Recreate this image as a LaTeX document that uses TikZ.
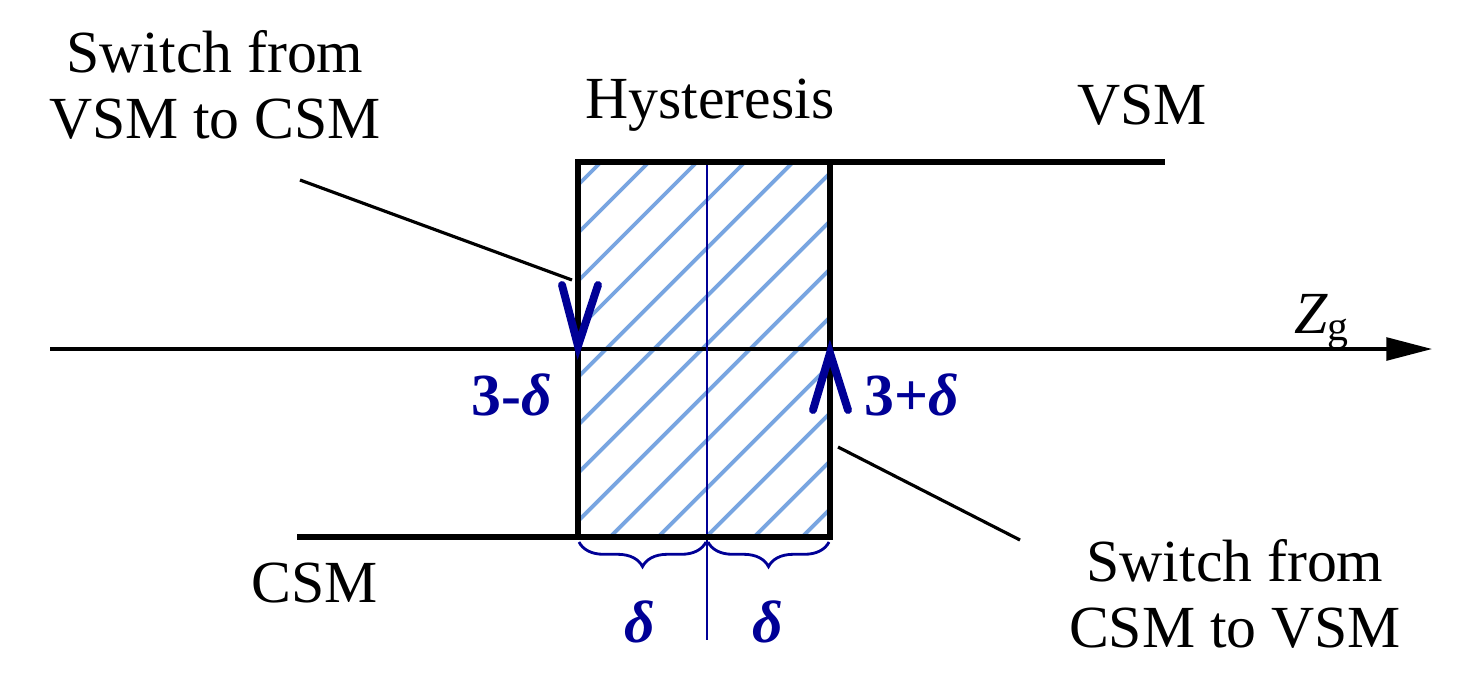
\documentclass[tikz,border=0pt]{standalone}
\usepackage{fontspec}
\setmainfont{Liberation Serif}
\usetikzlibrary{arrows.meta,decorations.pathreplacing}
\definecolor{dblue}{RGB}{0,0,150}
\definecolor{hblue}{RGB}{120,165,225}
\newcommand{\dlt}{\textit{δ}}
\begin{document}
\begin{tikzpicture}[x=0.02cm,y=-0.02cm,
  lbl/.style={font=\fontsize{34}{38}\selectfont,align=center,inner sep=0pt},
  blbl/.style={font=\fontsize{34}{38}\selectfont\bfseries,text=dblue,inner sep=0pt},
  thick black/.style={line width=3.2pt},
  vee/.style={dblue,line width=4.5pt,line cap=round,line join=miter}]
\useasboundingbox (0,0) rectangle (1457,677);
% hatch
\begin{scope}
\clip (578,162) rectangle (830,537);
\foreach \i in {-400,-352,...,900} {
  \draw[hblue,line width=2.2pt] (578+\i,537) -- ++(420,-420);
}
\end{scope}
% axis
\coordinate (a0) at (50,349);
\coordinate (a1) at (1432,349);
\draw[line width=1.8pt,-{Triangle[length=26pt,width=13pt]}] (a0) -- (a1);
\node[lbl] (zg) at (1322,322) {\textit{Z}\textsubscript{g}};
% center line
\coordinate (c0) at (707,162); \coordinate (c1) at (707,640);
\draw[dblue,line width=1.6pt] (c0) -- (c1);
% curve
\coordinate (p1) at (297,537); \coordinate (p2) at (578,537); \coordinate (p3) at (578,162);
\coordinate (p4) at (1165,162); \coordinate (p5) at (830,162); \coordinate (p6) at (830,537);
\draw[thick black] (p1) -- (p2) -- (p3) -- (p4);
\draw[thick black] (p5) -- (p6) -- (p2);
% braces
\draw[dblue,line width=1.6pt,decorate,decoration={brace,mirror,amplitude=14pt}] (579,542) -- (706,542);
\draw[dblue,line width=1.6pt,decorate,decoration={brace,mirror,amplitude=14pt}] (708,542) -- (829,542);
\node[blbl] (d1) at (640,622) {\dlt};
\node[blbl] (d2) at (768,622) {\dlt};
% vees
\draw[vee] (562,285) -- (578,346) -- (598,285);
\draw[vee] (813,410) -- (830,353) -- (848,410);
\node[blbl] (m) at (512,395) {3-\dlt};
\node[blbl] (p) at (912,395) {3+\dlt};
% labels
\node[lbl] (t1) at (215,85) {Switch from\\VSM to CSM};
\node[lbl] (t2) at (710,105) {Hysteresis};
\node[lbl] (t3) at (1142,105) {VSM};
\node[lbl] (t4) at (315,583) {CSM};
\node[lbl] (t5) at (1235,594) {Switch from\\CSM to VSM};
\coordinate (l1a) at (300,180); \coordinate (l1b) at (572,280);
\coordinate (l2a) at (838,447); \coordinate (l2b) at (1020,540);
\draw[line width=1.8pt] (l1a) -- (l1b);
\draw[line width=1.8pt] (l2a) -- (l2b);
\end{tikzpicture}
\end{document}
